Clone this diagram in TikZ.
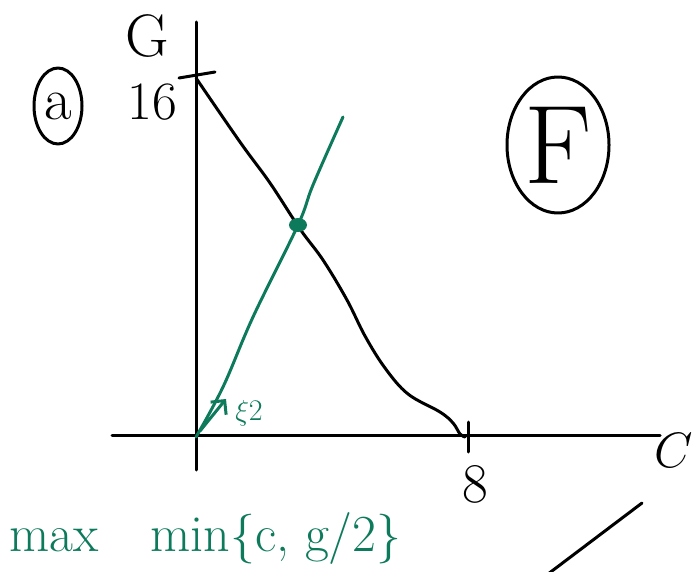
\documentclass[tikz,border=0pt]{standalone}
\usepackage{amsmath}
\usepackage{tikz}
\usepackage{xcolor}
\usetikzlibrary{arrows.meta,positioning,shapes.geometric}
\definecolor{Green}{HTML}{0E7A5C}

\begin{document}
\begin{tikzpicture}[x=0.5pt,y=-0.5pt,line width=1.5pt,line cap=round,line join=round,
  hand/.style={inner sep=0pt,font=\fontsize{#1}{#1}\selectfont},
  ring/.style={draw,ellipse,inner sep=0pt}]
  \useasboundingbox (0,0) rectangle (695,572);
  % axes
  \coordinate (O) at (196,435);
  \coordinate (ytop) at (196,22);
  \coordinate (ybot) at (196,470);
  \coordinate (xl) at (112,435);
  \coordinate (xr) at (660,435);
  \draw (ybot) -- (ytop);
  \draw (xl) -- (xr);
  \node[hand=30] (g) at (147,36) {G};
  \node[hand=30,anchor=east] (c) at (694,450) {$C$};
  % ticks
  \coordinate (t16a) at (179,78);
  \coordinate (t16b) at (215,72);
  \coordinate (t8a) at (468,422);
  \coordinate (t8b) at (468,452);
  \draw (t16a) -- (t16b);
  \draw (t8a) -- (t8b);
  \node[hand=27] (n16) at (152,102) {16};
  \node[hand=28] (n8) at (475,484) {8};
  % curves
  \draw[smooth,tension=0.6] plot coordinates {(196,78)(240,142)(270,183)(300,229)
    (323,260)(347,300)(365,336)(385,368)(408,394)(440,412)(453,423)(460,434)(465,437)};
  \draw[Green,smooth,tension=0.6] plot coordinates {(196,437)(223,387)(253,317)(298,225)(313,185)(343,117)};
  \node[Green,fill=Green,ellipse,minimum width=9pt,minimum height=7pt,inner sep=0pt] (eq) at (298,225) {};
  \coordinate (a0) at (200,431);
  \coordinate (a1) at (226,399);
  \draw[Green,-{Straight Barb[length=5pt]}] (a0) -- (a1);
  \node[Green,hand=15] (slope) at (249,413) {$\xi$2};
  % labels
  \node[ring,minimum width=24pt,minimum height=38pt] (a) at (58,106) {};
  \node[hand=30] (al) at (a) {a};
  \node[ring,minimum width=51pt,minimum height=68pt] (f) at (558,145) {};
  \node[hand=56] (fl) at (f) {F};
  \node[Green,hand=26,anchor=west] (obj) at (8,538) {max\quad min$\{$c, g/2$\}$};
  % next sketch
  \coordinate (s0) at (548,574);
  \coordinate (s1) at (642,503);
  \draw (s0) -- (s1);
\end{tikzpicture}
\end{document}
